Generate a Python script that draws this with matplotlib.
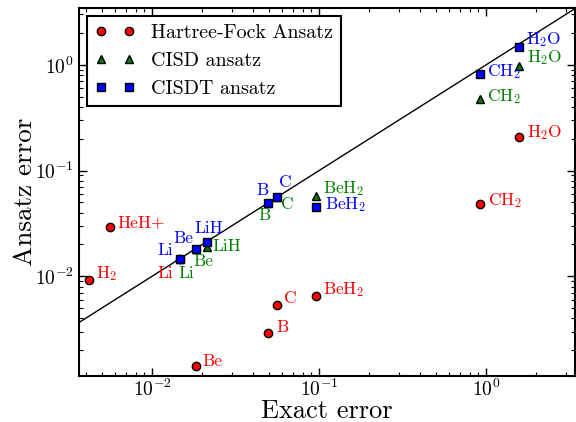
import matplotlib
matplotlib.use('Agg')
import matplotlib.pyplot as plt

plt.rcParams['font.family'] = ['cmr10', 'DejaVu Serif']
plt.rcParams['mathtext.fontset'] = 'cm'
plt.rcParams['axes.formatter.use_mathtext'] = True
plt.rcParams['axes.unicode_minus'] = False

# Data
hf_names = ['H$_2$', 'HeH+', 'Li', 'Be', 'B', 'C', 'BeH$_2$', 'CH$_2$', 'H$_2$O']
hf_exact = [0.0042, 0.0056, 0.0147, 0.0183, 0.0497, 0.0563, 0.0955, 0.92, 1.58]
hf_err = [0.0092, 0.0293, 0.0147, 0.00143, 0.00293, 0.0054, 0.0065, 0.048, 0.208]

ci_names = ['Li', 'Be', 'LiH', 'B', 'C', 'BeH$_2$', 'CH$_2$', 'H$_2$O']
ci_exact = [0.0147, 0.0183, 0.0213, 0.0497, 0.0563, 0.0955, 0.92, 1.58]
cisd_err = [0.0147, 0.0180, 0.0188, 0.0492, 0.056, 0.058, 0.478, 0.985]
cisdt_err = [0.0147, 0.0180, 0.0211, 0.0492, 0.056, 0.0448, 0.82, 1.46]

# label offsets in pixels (dx, dy, ha)
hf_off = [(7, 7, 'left'), (7, 4, 'left'), (-7, -15, 'right'), (7, 4, 'left'),
          (8, 5, 'left'), (7, 6, 'left'), (7, 7, 'left'), (8, 4, 'left'), (8, 4, 'left')]
cisd_off = [(-2, -15, 'left'), (-2, -12, 'left'), (6, 1, 'left'), (-4, -12, 'center'),
            (4, -7, 'left'), (7, 7, 'left'), (7, 2, 'left'), (8, 8, 'left')]
cisdt_off = [(-7, 8, 'right'), (-2, 11, 'right'), (2, 14, 'center'), (0, 13, 'right'),
             (2, 15, 'left'), (9, 3, 'left'), (7, 2, 'left'), (7, 8, 'left')]

fig = plt.figure(figsize=(5.76, 4.22), dpi=100)
ax = fig.add_axes([0.137, 0.11, 0.861, 0.871])

xlim = (0.00365, 3.4)
ylim = (0.00115, 3.45)
ax.plot([1e-4, 10], [1e-4, 10], 'k-', lw=1, zorder=1)

ax.plot(hf_exact, hf_err, 'o', color='red', mec='k', mew=1, ms=6,
        label='Hartree-Fock Ansatz', zorder=2)
ax.plot(ci_exact, cisd_err, '^', color='green', mec='k', mew=1, ms=6,
        label='CISD ansatz', zorder=3)
ax.plot(ci_exact, cisdt_err, 's', color='blue', mec='k', mew=1, ms=6,
        label='CISDT ansatz', zorder=4)

for names, xs, ys, offs, col in [(hf_names, hf_exact, hf_err, hf_off, 'red'),
                                 (ci_names, ci_exact, cisd_err, cisd_off, 'green'),
                                 (ci_names, ci_exact, cisdt_err, cisdt_off, 'blue')]:
    for n, x, y, (dx, dy, ha) in zip(names, xs, ys, offs):
        ax.annotate(n, (x, y), xytext=(dx, dy), textcoords='offset pixels',
                    color=col, fontsize=12.5, ha=ha, va='center')

ax.set_xscale('log')
ax.set_yscale('log')
ax.set_xlim(*xlim)
ax.set_ylim(*ylim)
ax.set_xlabel('Exact error', fontsize=19, labelpad=-0.5)
ax.set_ylabel('Ansatz error', fontsize=19.5, labelpad=-1)
ax.tick_params(which='both', direction='in', top=True, right=True, labelsize=14)
ax.tick_params(axis='x', which='both', pad=2)
ax.tick_params(which='major', length=6, width=1)
ax.tick_params(which='minor', length=3, width=0.8)
for s in ax.spines.values():
    s.set_linewidth(1.5)

leg = ax.legend(loc='upper left', numpoints=2, fontsize=14.4, fancybox=False,
                edgecolor='k', framealpha=1, borderaxespad=0.4)
leg.get_frame().set_linewidth(1.5)

fig.savefig('out.png', dpi=100)
